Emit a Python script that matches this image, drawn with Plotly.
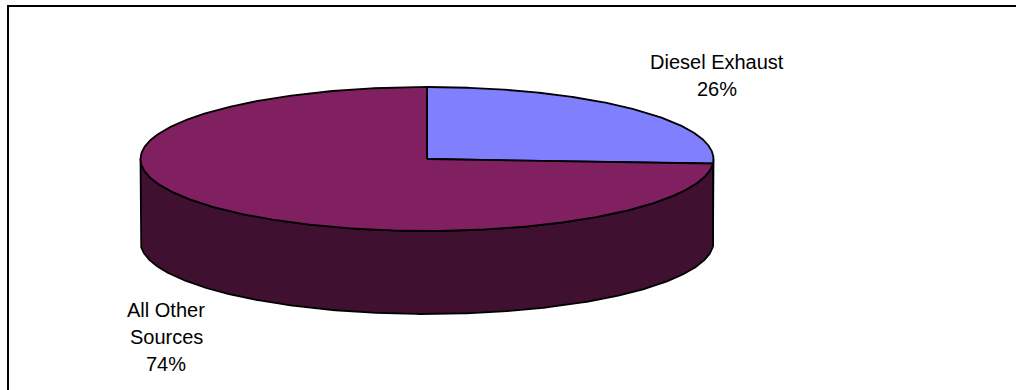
import numpy as np
import plotly.graph_objects as go

categories = ["Diesel Exhaust", "All Other Sources"]
label_lines = [["Diesel Exhaust"], ["All Other", "Sources"]]
shares = [26, 74]
top_colors = ["#8080FF", "#802060"]
side_colors = ["#404080", "#401030"]

W, H = 1016, 390
cx, cy, rx, ry, depth = 427, 159, 286.5, 72, 83


def pt(theta_deg):
    t = np.radians(90 - np.asarray(theta_deg, dtype=float))
    return cx + rx * np.cos(t), cy - ry * np.sin(t)


total = float(sum(shares))
bounds = np.concatenate([[0.0], np.cumsum(shares) / total * 360.0])

fig = go.Figure()

# front side walls (visible between 90 and 270 deg clockwise from top)
for i in range(len(shares)):
    a0, a1 = bounds[i], bounds[i + 1]
    lo, hi = max(a0, 90.0), min(a1, 270.0)
    if hi > lo:
        th = np.linspace(lo, hi, 300)
        x, y = pt(th)
        xs = np.concatenate([x, x[::-1], [x[0]]])
        ys = np.concatenate([y, y[::-1] + depth, [y[0]]])
        fig.add_trace(go.Scatter(x=xs, y=ys, mode="lines", fill="toself",
                                 fillcolor=side_colors[i],
                                 line=dict(color="black", width=1.8),
                                 hoverinfo="skip", showlegend=False))

# top faces
for i in range(len(shares)):
    a0, a1 = bounds[i], bounds[i + 1]
    th = np.linspace(a0, a1, 500)
    x, y = pt(th)
    xs = np.concatenate([[cx], x, [cx]])
    ys = np.concatenate([[cy], y, [cy]])
    fig.add_trace(go.Scatter(x=xs, y=ys, mode="lines", fill="toself",
                             fillcolor=top_colors[i],
                             line=dict(color="black", width=1.8),
                             hoverinfo="skip", showlegend=False))

# labels: one annotation per text line
label_anchor = [(716.5, 61.5), (166, 310)]
line_step = 27
for i, (lx, ly) in enumerate(label_anchor):
    lines = label_lines[i] + [f"{shares[i]}%"]
    for k, txt in enumerate(lines):
        fig.add_annotation(x=lx, y=ly + k * line_step, xref="x", yref="y",
                           text=txt, showarrow=False,
                           xanchor="center", yanchor="middle",
                           font=dict(family="Liberation Sans, Arial, sans-serif",
                                     size=20, color="black"))

fig.add_shape(type="rect", xref="x", yref="y", x0=8, y0=6, x1=1030, y1=410,
              line=dict(color="black", width=2), fillcolor="rgba(0,0,0,0)")

fig.update_xaxes(range=[0, W], visible=False, fixedrange=True)
fig.update_yaxes(range=[H, 0], visible=False, fixedrange=True)
fig.update_layout(width=W, height=H, margin=dict(l=0, r=0, t=0, b=0),
                  paper_bgcolor="white", plot_bgcolor="white",
                  showlegend=False)

fig.write_html("out.html")
